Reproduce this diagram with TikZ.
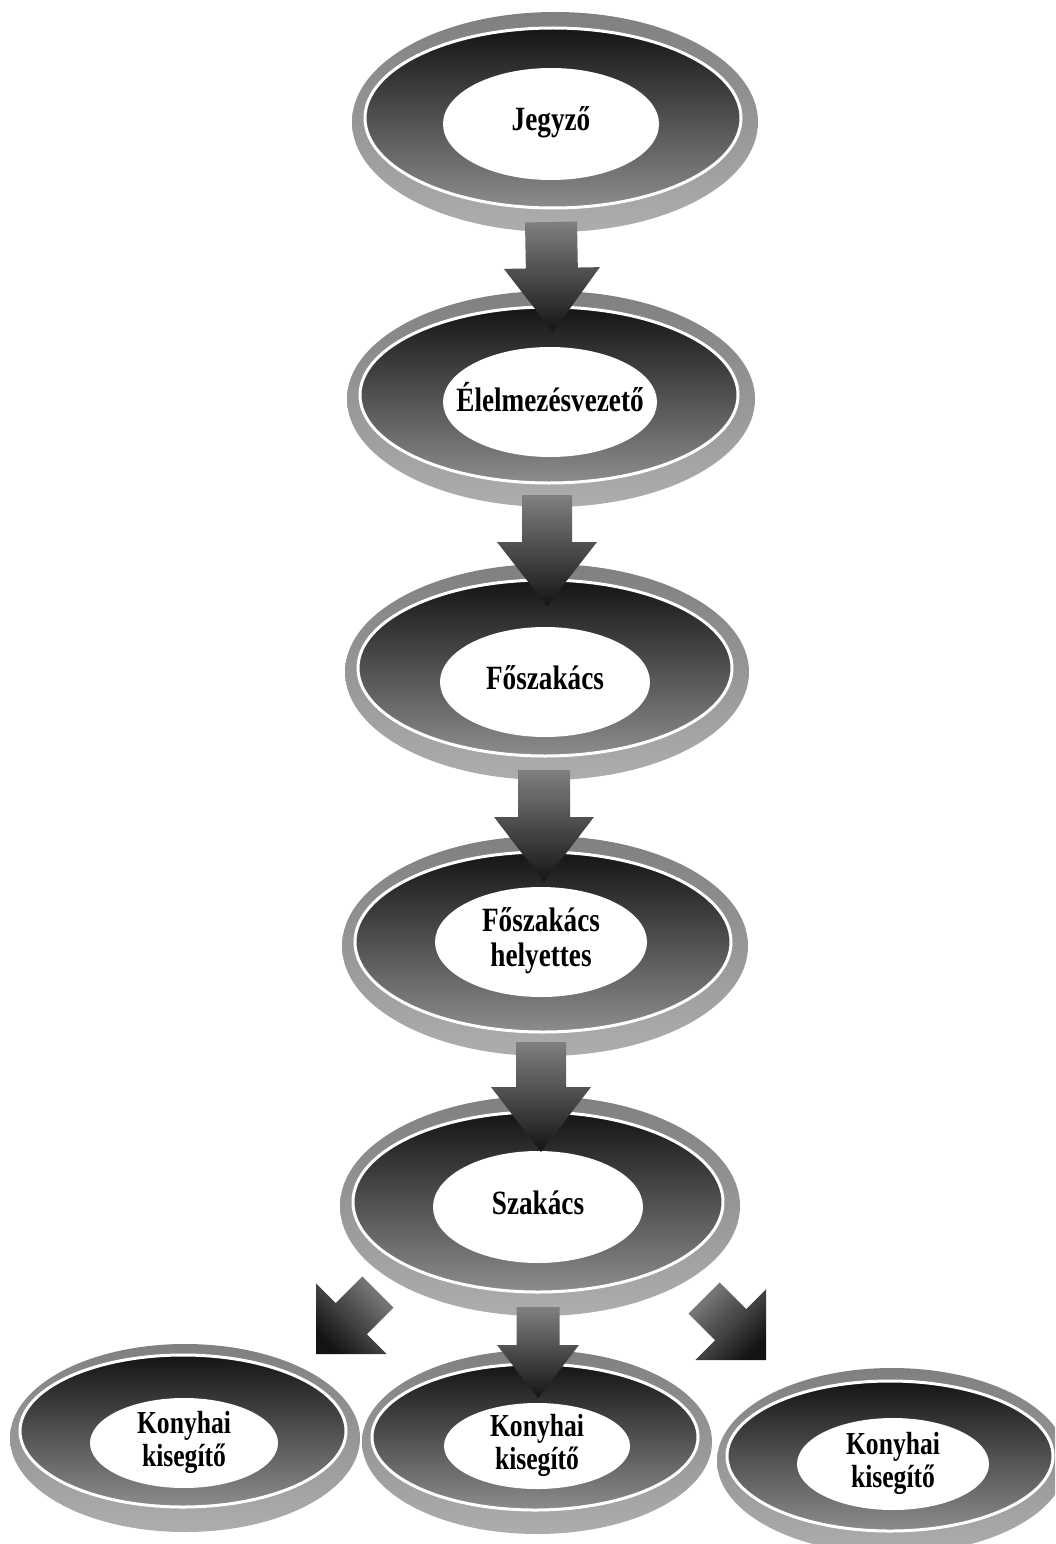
\documentclass[tikz,border=0pt]{standalone}
\usepackage{fontspec}
\usepackage{graphicx}
\setmainfont{Liberation Serif}
\usetikzlibrary{shapes.geometric,calc}
\newcommand\mainlbl[1]{\scalebox{0.8}[1]{\fontsize{34}{35}\selectfont\bfseries\begin{tabular}{@{}c@{}}#1\end{tabular}}}
\newcommand\smlbl[1]{\scalebox{0.8}[1]{\fontsize{32}{33}\selectfont\bfseries\begin{tabular}{@{}c@{}}#1\end{tabular}}}
\newcommand\blockarrow[6]{%
  \coordinate (hb) at ($(#2)!#5!(#1)$);
  \path[#6] ($(#1)!#3!90:(#2)$) -- ($(hb)!#3!90:(#2)$) -- ($(hb)!#4!90:(#2)$) -- (#2)
    -- ($(hb)!#4!-90:(#2)$) -- ($(hb)!#3!-90:(#2)$) -- ($(#1)!#3!-90:(#2)$) -- cycle;}
\tikzset{
  outerE/.style={ellipse, inner sep=0pt, top color=black!50, bottom color=black!32},
  darkE/.style={ellipse, inner sep=0pt, draw=white, line width=3pt, top color=black!92, bottom color=black!45},
  innerE/.style={ellipse, inner sep=0pt, fill=white},
  lbl/.style={inner sep=0pt, text=black},
  arrowV/.style={top color=black!50, bottom color=black!92},
}
\begin{document}
\begin{tikzpicture}[x=1pt,y=-1pt]
\useasboundingbox (0,0) rectangle (1055,1544);
\clip (0,0) rectangle (1055,1544);
\fill[white] (0,0) rectangle (1055,1544);
% Jegyzo
\node[outerE, minimum width=406pt, minimum height=220pt] (jo) at (555,122) {};
\node[darkE, minimum width=376pt, minimum height=180pt] (jd) at (553,118) {};
\node[innerE, minimum width=216pt, minimum height=112pt] (j) at (551,124) {};
\node[lbl] (jt) at (j) {\mainlbl{Jegyző}};
% Elelmezesvezeto
\node[outerE, minimum width=408pt, minimum height=216pt] (eo) at (551,399) {};
\node[darkE, minimum width=378pt, minimum height=176pt] (ed) at (549,395) {};
\node[innerE, minimum width=214pt, minimum height=110pt] (e) at (550,402) {};
\node[lbl] (et) at (e) {\mainlbl{Élelmezésvezető}};
% Foszakacs
\node[outerE, minimum width=404pt, minimum height=216pt] (fo) at (547,672) {};
\node[darkE, minimum width=374pt, minimum height=176pt] (fd) at (545,668) {};
\node[innerE, minimum width=210pt, minimum height=110pt] (f) at (545,682) {};
\node[lbl] (ft) at (f) {\mainlbl{Főszakács}};
% Foszakacs helyettes
\node[outerE, minimum width=406pt, minimum height=220pt] (ho) at (545,946) {};
\node[darkE, minimum width=376pt, minimum height=180pt] (hd) at (543,942) {};
\node[innerE, minimum width=212pt, minimum height=110pt] (h) at (541,942) {};
\node[lbl] (ht) at (h) {\mainlbl{Főszakács\\helyettes}};
% Szakacs
\node[outerE, minimum width=400pt, minimum height=220pt] (so) at (540,1206) {};
\node[darkE, minimum width=370pt, minimum height=180pt] (sd) at (538,1202) {};
\node[innerE, minimum width=210pt, minimum height=112pt] (s) at (538,1207) {};
\node[lbl] (st) at (s) {\mainlbl{Szakács}};
% Konyhai kisegito left
\node[outerE, minimum width=350pt, minimum height=188pt] (klo) at (185,1438) {};
\node[darkE, minimum width=326pt, minimum height=152pt] (kld) at (183,1431) {};
\node[innerE, minimum width=188pt, minimum height=90pt] (kl) at (184,1443) {};
\node[lbl] (klt) at (kl) {\smlbl{Konyhai\\kisegítő}};
% Konyhai kisegito middle
\node[outerE, minimum width=350pt, minimum height=184pt] (kmo) at (537,1442) {};
\node[darkE, minimum width=326pt, minimum height=146pt] (kmd) at (535,1437) {};
\node[innerE, minimum width=186pt, minimum height=86pt] (km) at (537,1446) {};
\node[lbl] (kmt) at (km) {\smlbl{Konyhai\\kisegítő}};
% Konyhai kisegito right
\node[outerE, minimum width=350pt, minimum height=186pt] (kro) at (892,1461) {};
\node[darkE, minimum width=326pt, minimum height=150pt] (krd) at (890,1456) {};
\node[innerE, minimum width=192pt, minimum height=92pt] (kr) at (893,1464) {};
\node[lbl] (krt) at (kr) {\smlbl{Konyhai\\kisegítő}};
% arrow end points
\coordinate (a1s) at (551,222);  \coordinate (a1e) at (553,332);
\coordinate (a2s) at (547,495);  \coordinate (a2e) at (547,606);
\coordinate (a3s) at (544,770);  \coordinate (a3e) at (544,882);
\coordinate (a4s) at (541,1042); \coordinate (a4e) at (541,1152);
\coordinate (a5s) at (538,1307); \coordinate (a5e) at (538,1398);
\coordinate (a6s) at (378,1292); \coordinate (a6e) at (316,1354);
\coordinate (a7s) at (704,1298); \coordinate (a7e) at (766,1360);
\blockarrow{a1s}{a1e}{26pt}{48pt}{64pt}{arrowV}
\blockarrow{a2s}{a2e}{25pt}{50pt}{64pt}{arrowV}
\blockarrow{a3s}{a3e}{26pt}{50pt}{65pt}{arrowV}
\blockarrow{a4s}{a4e}{25pt}{50pt}{65pt}{arrowV}
\blockarrow{a5s}{a5e}{21.5pt}{41pt}{53pt}{arrowV}
\blockarrow{a6s}{a6e}{22pt}{50pt}{50pt}{top color=black!50, bottom color=black!92, shading angle=-45}
\blockarrow{a7s}{a7e}{22pt}{50pt}{50pt}{top color=black!50, bottom color=black!92, shading angle=45}
\end{tikzpicture}
\end{document}
